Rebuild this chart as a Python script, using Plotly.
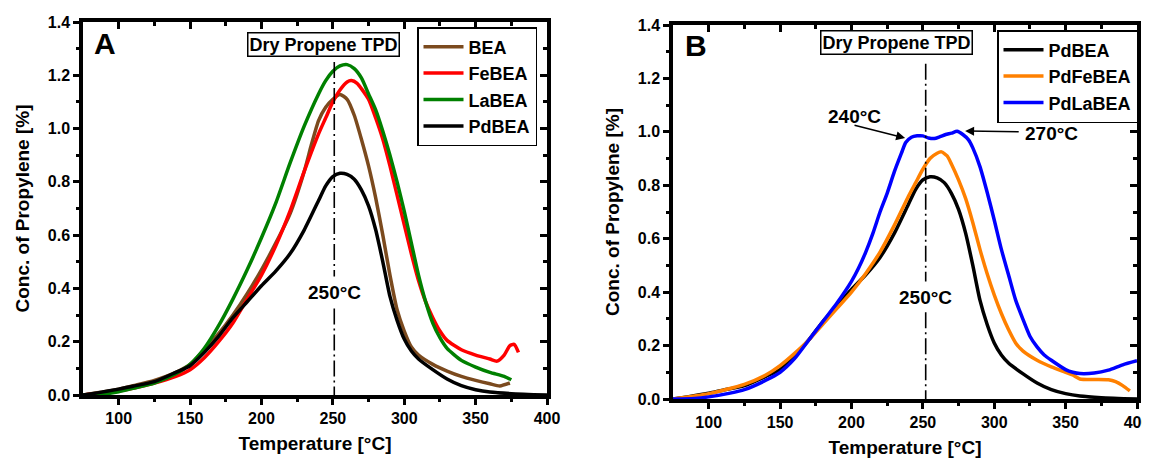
import plotly.graph_objects as go

# ---------------- Data ----------------
# Panel A
bea_T = [75, 90, 100, 110, 125, 140, 150, 160, 170, 180, 190, 200, 210, 220, 230, 235, 240, 245, 250, 255,
         260, 265, 270, 275, 280, 285, 290, 295, 300, 305, 310, 320, 330, 340, 350, 360, 367, 374]
bea_v = [0.0, 0.012, 0.022, 0.035, 0.055, 0.085, 0.115, 0.17, 0.23, 0.30, 0.38, 0.47, 0.57, 0.68, 0.84, 0.94, 1.03, 1.08, 1.11, 1.128,
         1.11, 1.05, 0.96, 0.86, 0.74, 0.60, 0.45, 0.32, 0.24, 0.18, 0.15, 0.115, 0.09, 0.07, 0.055, 0.042, 0.034, 0.045]

febea_T = [75, 100, 125, 140, 150, 160, 170, 180, 190, 200, 210, 220, 230, 240, 245, 250, 255, 260, 263, 267,
           270, 275, 280, 285, 290, 295, 300, 305, 310, 315, 320, 325, 330, 340, 350, 360, 365, 370, 374, 377, 380]
febea_v = [0.0, 0.015, 0.045, 0.07, 0.095, 0.14, 0.20, 0.27, 0.36, 0.45, 0.56, 0.69, 0.84, 0.98, 1.04, 1.10, 1.145, 1.175, 1.18, 1.17,
           1.15, 1.11, 1.04, 0.96, 0.86, 0.75, 0.64, 0.53, 0.43, 0.35, 0.29, 0.24, 0.205, 0.17, 0.15, 0.135, 0.127, 0.15, 0.185, 0.19, 0.16]

labea_T = [75, 90, 100, 110, 125, 140, 150, 160, 170, 180, 190, 200, 210, 220, 230, 240, 245, 250, 255, 260,
           265, 270, 275, 280, 285, 290, 295, 300, 305, 310, 315, 320, 325, 330, 340, 350, 360, 370, 375]
labea_v = [0.0, 0.004, 0.012, 0.025, 0.045, 0.08, 0.115, 0.175, 0.26, 0.36, 0.47, 0.59, 0.72, 0.87, 1.01, 1.13, 1.18, 1.215, 1.235, 1.24,
           1.225, 1.19, 1.13, 1.07, 0.99, 0.90, 0.80, 0.69, 0.57, 0.45, 0.35, 0.27, 0.215, 0.175, 0.13, 0.105, 0.085, 0.07, 0.057]

pdbea_T = [75, 85, 100, 110, 125, 140, 150, 160, 170, 180, 190, 200, 210, 220, 230, 240, 245, 250, 255, 260,
           265, 270, 275, 280, 285, 290, 295, 300, 305, 310, 320, 330, 340, 350, 360, 375, 400]
pdbea_v = [0.0, 0.008, 0.022, 0.033, 0.05, 0.085, 0.11, 0.16, 0.22, 0.29, 0.35, 0.41, 0.465, 0.53, 0.62, 0.73, 0.785, 0.82, 0.832, 0.828,
           0.81, 0.77, 0.71, 0.62, 0.50, 0.37, 0.28, 0.21, 0.165, 0.135, 0.095, 0.06, 0.035, 0.02, 0.011, 0.005, 0.0]

# Panel B
pdfebea_T = [75, 100, 125, 140, 150, 160, 170, 180, 190, 200, 210, 220, 230, 240, 245, 250, 255, 260, 263, 267,
             270, 275, 280, 285, 290, 295, 300, 305, 310, 315, 320, 330, 340, 350, 355, 360, 370, 380, 385, 390, 395]
pdfebea_v = [0.0, 0.02, 0.055, 0.09, 0.125, 0.17, 0.22, 0.28, 0.34, 0.40, 0.47, 0.55, 0.65, 0.76, 0.81, 0.86, 0.90, 0.92, 0.925, 0.91,
             0.88, 0.82, 0.75, 0.66, 0.56, 0.47, 0.39, 0.32, 0.26, 0.21, 0.18, 0.145, 0.12, 0.10, 0.09, 0.075, 0.073, 0.072, 0.065, 0.05, 0.03]

pdlabea_T = [75, 90, 100, 115, 125, 140, 150, 160, 170, 180, 190, 200, 205, 210, 215, 220, 225, 230, 235, 238,
             242, 246, 250, 254, 258, 262, 266, 270, 274, 278, 282, 285, 290, 295, 300, 305, 310, 315, 320, 325,
             330, 335, 340, 350, 355, 360, 370, 380, 390, 400]
pdlabea_v = [0.0, 0.002, 0.008, 0.022, 0.035, 0.07, 0.10, 0.15, 0.22, 0.29, 0.36, 0.44, 0.49, 0.55, 0.62, 0.70, 0.77, 0.85, 0.92, 0.96,
             0.98, 0.985, 0.985, 0.977, 0.975, 0.982, 0.99, 0.995, 1.002, 0.99, 0.97, 0.94, 0.87, 0.775, 0.67, 0.56, 0.465, 0.37, 0.30, 0.235,
             0.195, 0.165, 0.145, 0.11, 0.10, 0.095, 0.097, 0.108, 0.128, 0.143]

x_ticks = [100, 150, 200, 250, 300, 350, 400]
y_ticks = [0.0, 0.2, 0.4, 0.6, 0.8, 1.0, 1.2, 1.4]
x_minor = [125, 175, 225, 275, 325, 375]
y_minor = [0.1, 0.3, 0.5, 0.7, 0.9, 1.1, 1.3]

FONT = "Liberation Sans, Arial, sans-serif"
# the page body adds an 8px offset; the figure fills the rest of the 1150x459 view
OX, OY = 8, 8
FW, FH = 1150 - OX, 459 - OY

def fx(px):
    return (px - OX) / FW

def fy(py):
    return 1 - (py - OY) / FH

fig = go.Figure()

def add(T, v, name, color, xa, ya, legend):
    fig.add_trace(go.Scatter(x=T, y=v, name=name, mode="lines", xaxis=xa, yaxis=ya,
                             line=dict(color=color, width=3.5, shape="spline", smoothing=0.6),
                             legend=legend))

add(bea_T, bea_v, "BEA", "#7B4A1E", "x", "y", "legend")
add(febea_T, febea_v, "FeBEA", "#FF0000", "x", "y", "legend")
add(labea_T, labea_v, "LaBEA", "#008000", "x", "y", "legend")
add(pdbea_T, pdbea_v, "PdBEA", "#000000", "x", "y", "legend")

add(pdbea_T, pdbea_v, "PdBEA", "#000000", "x2", "y2", "legend2")
add(pdfebea_T, pdfebea_v, "PdFeBEA", "#FF8000", "x2", "y2", "legend2")
add(pdlabea_T, pdlabea_v, "PdLaBEA", "#0000FF", "x2", "y2", "legend2")

# invisible traces to activate mirror (inside) tick axes
for xa, ya in (("x3", "y3"), ("x4", "y4")):
    fig.add_trace(go.Scatter(x=[200], y=[0.5], xaxis=xa, yaxis=ya, mode="markers",
                             marker=dict(opacity=0), showlegend=False, hoverinfo="skip"))

# domains (from pixel geometry of the reference)
xdomA = [fx(83), fx(547)]
ydomA = [fy(395), fy(22)]
xdomB = [fx(673), fx(1137)]
ydomB = [fy(399), fy(25)]

tickfont = dict(family=FONT, size=16, color="black", weight="bold")
titlefont = dict(family=FONT, size=19, color="black", weight="bold")

def xaxis_main(dom, anchor):
    return dict(domain=dom, anchor=anchor, range=[75, 400], tickmode="array", tickvals=x_ticks,
                ticktext=[str(t) for t in x_ticks], ticks="outside", ticklen=6, tickwidth=3, tickcolor="black",
                minor=dict(tickmode="array", tickvals=x_minor, ticks="outside",
                           ticklen=3, tickwidth=2.5, tickcolor="black"),
                showline=True, linewidth=3.5, linecolor="black", mirror=True, showgrid=False, zeroline=False,
                ticklabeloverflow="allow",
                tickfont=tickfont, title=dict(text="Temperature [°C]", font=titlefont, standoff=12))

def yaxis_main(dom, anchor):
    return dict(domain=dom, anchor=anchor, range=[0, 1.4], tickmode="array", tickvals=y_ticks,
                ticktext=[f"{t:.1f}" for t in y_ticks], ticks="outside", ticklen=6, tickwidth=3, tickcolor="black",
                minor=dict(tickmode="array", tickvals=y_minor, ticks="outside",
                           ticklen=3, tickwidth=2.5, tickcolor="black"),
                showline=True, linewidth=3.5, linecolor="black", mirror=True, showgrid=False, zeroline=False,
                ticklabeloverflow="allow",
                tickfont=tickfont, title=dict(text="Conc. of Propylene [%]", font=titlefont, standoff=14))

def xaxis_mirror(over, anchor):
    return dict(overlaying=over, anchor=anchor, side="top", range=[75, 400], tickmode="array", tickvals=x_ticks,
                ticks="inside", ticklen=7, tickwidth=3, tickcolor="black", showticklabels=False,
                minor=dict(tickmode="array", tickvals=x_minor, ticks="inside",
                           ticklen=4, tickwidth=2.5, tickcolor="black"),
                showline=False, showgrid=False, zeroline=False)

def yaxis_mirror(over, anchor):
    return dict(overlaying=over, anchor=anchor, side="right", range=[0, 1.4], tickmode="array", tickvals=y_ticks,
                ticks="inside", ticklen=7, tickwidth=3, tickcolor="black", showticklabels=False,
                minor=dict(tickmode="array", tickvals=y_minor, ticks="inside",
                           ticklen=4, tickwidth=2.5, tickcolor="black"),
                showline=False, showgrid=False, zeroline=False)

legend_common = dict(font=dict(family=FONT, size=18, color="black", weight="bold"),
                     bgcolor="white", bordercolor="black", borderwidth=1.5,
                     xref="paper", yref="paper", xanchor="right", yanchor="top",
                     tracegroupgap=0, itemwidth=40)

annfont = dict(family=FONT, size=19, color="black", weight="bold")
boxfont = dict(family=FONT, size=18, color="black", weight="bold")
letterfont = dict(family=FONT, size=30, color="black", weight="bold")

annotations = [
    dict(text="A", xref="paper", yref="paper", x=fx(104.7), y=fy(43.7), xanchor="center", yanchor="middle",
         showarrow=False, font=letterfont),
    dict(text="B", xref="paper", yref="paper", x=fx(695.6), y=fy(46), xanchor="center", yanchor="middle",
         showarrow=False, font=letterfont),
    dict(text="Dry Propene TPD", xref="x", yref="y", x=243.8, y=1.316, xanchor="center", yanchor="middle",
         showarrow=False, font=boxfont, bgcolor="white", bordercolor="black", borderwidth=1.5, borderpad=1),
    dict(text="Dry Propene TPD", xref="x2", yref="y2", x=231.6, y=1.335, xanchor="center", yanchor="middle",
         showarrow=False, font=boxfont, bgcolor="white", bordercolor="black", borderwidth=1.5, borderpad=1),
    dict(text="250°C", xref="x", yref="y", x=251, y=0.383, xanchor="center", yanchor="middle",
         showarrow=False, font=annfont),
    dict(text="250°C", xref="x2", yref="y2", x=252, y=0.381, xanchor="center", yanchor="middle",
         showarrow=False, font=annfont),
    dict(text="240°C", xref="x2", yref="y2", x=202.2, y=1.058, xanchor="center", yanchor="middle",
         showarrow=False, font=annfont),
    dict(text="270°C", xref="x2", yref="y2", x=339.9, y=0.994, xanchor="center", yanchor="middle",
         showarrow=False, font=annfont),
    # arrows
    dict(text="", xref="x2", yref="y2", x=237.6, y=0.977, axref="x2", ayref="y2", ax=201.1, ay=1.026,
         showarrow=True, arrowhead=2, arrowsize=1.2, arrowwidth=1.5, arrowcolor="black"),
    dict(text="", xref="x2", yref="y2", x=279.6, y=1.003, axref="x2", ayref="y2", ax=318.2, ay=1.0,
         showarrow=True, arrowhead=2, arrowsize=1.2, arrowwidth=1.5, arrowcolor="black"),
]

dash = "16px,4px,2px,4px"
vline = dict(color="black", width=1.6, dash=dash)
shapes = [
    dict(type="line", xref="x", yref="y", x0=251, x1=251, y0=1.25, y1=0.445, line=vline),
    dict(type="line", xref="x", yref="y", x0=251, x1=251, y0=0.325, y1=0.0, line=vline),
    dict(type="line", xref="x2", yref="y2", x0=252, x1=252, y0=1.255, y1=0.44, line=vline),
    dict(type="line", xref="x2", yref="y2", x0=252, x1=252, y0=0.325, y1=0.0, line=vline),
]

fig.update_layout(
    width=FW, height=FH, margin=dict(l=0, r=0, t=0, b=0, autoexpand=False),
    paper_bgcolor="white", plot_bgcolor="white",
    font=dict(family=FONT, color="black"),
    xaxis=xaxis_main(xdomA, "y"), yaxis=yaxis_main(ydomA, "x"),
    xaxis2=xaxis_main(xdomB, "y2"), yaxis2=yaxis_main(ydomB, "x2"),
    xaxis3=xaxis_mirror("x", "y3"), yaxis3=yaxis_mirror("y", "x3"),
    xaxis4=xaxis_mirror("x2", "y4"), yaxis4=yaxis_mirror("y2", "x4"),
    legend=dict(x=fx(537), y=fy(27), **legend_common),
    legend2=dict(x=fx(1138), y=fy(30), **legend_common),
    annotations=annotations, shapes=shapes,
)

fig.write_html("out.html")
